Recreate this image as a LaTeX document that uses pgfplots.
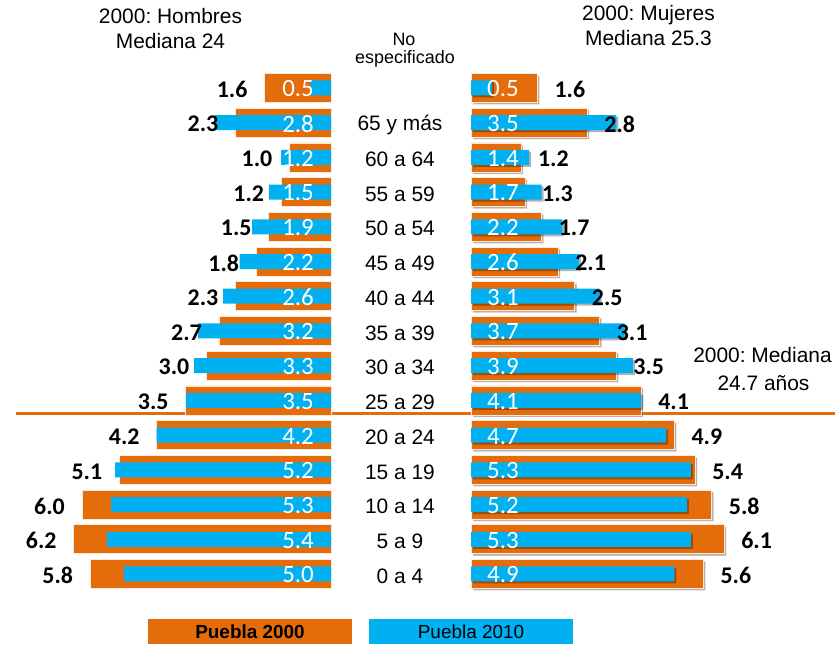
\documentclass[border=0pt]{standalone}
\usepackage{pgfplots}
\pgfplotsset{compat=1.18}
\usepackage{pgfplotstable}
\usepackage{fontspec}
\setmainfont{Liberation Sans}
\newfontfamily\calibri{Carlito}
\usetikzlibrary{shadows}
\definecolor{cOr}{RGB}{228,108,10}
\definecolor{cBl}{RGB}{0,176,240}
\frenchspacing

\pgfplotstableread{
y h00 h10 m00 m10
0 5.8 5.0 5.6 4.9
1 6.2 5.4 6.1 5.3
2 6.0 5.3 5.8 5.2
3 5.1 5.2 5.4 5.3
4 4.2 4.2 4.9 4.7
5 3.5 3.5 4.1 4.1
6 3.0 3.3 3.5 3.9
7 2.7 3.2 3.1 3.7
8 2.3 2.6 2.5 3.1
9 1.8 2.2 2.1 2.6
10 1.5 1.9 1.7 2.2
11 1.2 1.5 1.3 1.7
12 1.0 1.2 1.2 1.4
13 2.3 2.8 2.8 3.5
14 1.6 0.5 1.6 0.5
}\datos

\pgfplotsset{
  numlab/.style={nodes near coords={\pgfmathprintnumber[fixed,fixed zerofill,precision=1,assume math mode=true]{\pgfplotspointmeta}}},
  boldlab/.style={draw=none, mark=none, point meta=explicit, numlab,
     nodes near coords style={inner sep=0pt, text=black, yshift=-1.5bp, font=\calibri\bfseries\fontsize{24}{24}\selectfont}},
  whitelab/.style={draw=none, mark=none, point meta=explicit, numlab,
     nodes near coords style={inner sep=0pt, text=white, yshift=-1bp, font=\calibri\fontsize{25}{25}\selectfont}},
}

\begin{document}
\begin{tikzpicture}
\useasboundingbox (0,0) rectangle (840bp,648bp);
\draw[cOr, line width=3bp] (16bp,234.5bp) -- (835bp,234.5bp);

% Hombres
\begin{axis}[
  at={(331bp,56.64bp)}, anchor=south east,
  x=41.5bp, y=34.72bp, xmin=0, xmax=7.5, ymin=-0.5, ymax=14.5,
  x dir=reverse, hide axis, clip=false]
\addplot[xbar, bar width=29bp, bar shift=0pt, fill=cOr, draw=white!85!cOr, line width=0.6bp] table[x=h00,y=y]{\datos};
\addplot[xbar, bar width=15bp, bar shift=0pt, fill=cBl, draw=none] table[x=h10,y=y]{\datos};
\addplot[boldlab, nodes near coords style={anchor=east, xshift=-17bp}] table[x=h00,y=y,meta=h00]{\datos};
\addplot[whitelab, nodes near coords style={anchor=east}] table[x expr=0.41,y=y,meta=h10]{\datos};
\end{axis}

% Mujeres
\begin{axis}[
  at={(471bp,56.64bp)}, anchor=south west,
  x=41.5bp, y=34.72bp, xmin=0, xmax=8.5, ymin=-0.5, ymax=14.5,
  clip=false, axis line style={draw=none}, tick style={draw=none},
  xtick=\empty, ytick={0,...,13},
  yticklabels={0 a 4, 5 a 9, 10 a 14, 15 a 19, 20 a 24, 25 a 29, 30 a 34, 35 a 39, 40 a 44, 45 a 49, 50 a 54, 55 a 59, 60 a 64, 65 y más},
  yticklabel style={anchor=center, xshift=-71bp, yshift=-2bp, font=\fontsize{21}{21}\selectfont}]
\addplot[xbar, bar width=29bp, bar shift=0pt, fill=cOr, draw=white!85!cOr, line width=0.6bp,
  drop shadow={shadow xshift=2bp, shadow yshift=-2bp, opacity=0.3, fill=black}] table[x=m00,y=y]{\datos};
\addplot[xbar, bar width=15bp, bar shift=0pt, fill=cBl, draw=none,
  drop shadow={shadow xshift=2bp, shadow yshift=-2bp, opacity=0.3, fill=black}] table[x=m10,y=y]{\datos};
\addplot[boldlab, nodes near coords style={anchor=west, xshift=17bp}] table[x=m00,y=y,meta=m00]{\datos};
\addplot[whitelab, nodes near coords style={anchor=west}] table[x expr=0.386,y=y,meta=m10]{\datos};
\end{axis}

\begin{scope}[font=\fontsize{21}{21}\selectfont]
\node[anchor=base] at (170.5bp,624.7bp) {2000: Hombres};
\node[anchor=base] at (170.5bp,599bp) {Mediana 24};
\node[anchor=base] at (648.5bp,627bp) {2000: Mujeres};
\node[anchor=base] at (648.5bp,602bp) {Mediana 25.3};
\node[anchor=base] at (762.5bp,285bp) {2000: Mediana};
\node[anchor=base] at (763.5bp,257bp) {24.7 años};
\end{scope}
\node[anchor=base, font=\fontsize{18}{18}\selectfont] at (404bp,602.5bp) {No};
\node[anchor=base, font=\fontsize{18}{18}\selectfont] at (405bp,584.5bp) {especificado};

\node[fill=cOr, minimum width=204bp, minimum height=25bp, inner sep=0pt,
  font=\bfseries\fontsize{19}{19}\selectfont] at (250bp,16.5bp) {Puebla 2000};
\node[fill=cBl, minimum width=204bp, minimum height=25bp, inner sep=0pt,
  font=\fontsize{19}{19}\selectfont] at (471bp,16.5bp) {Puebla 2010};
\end{tikzpicture}
\end{document}
